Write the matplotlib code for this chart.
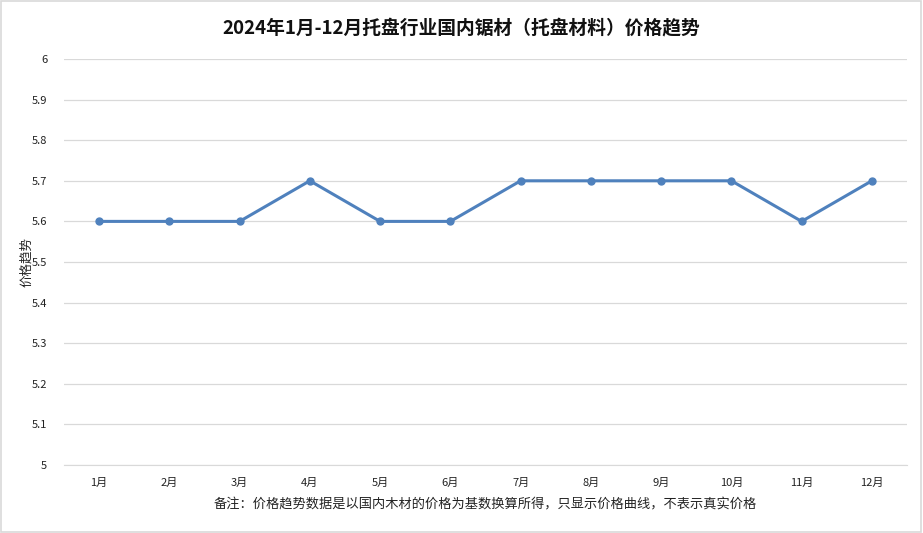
import matplotlib
matplotlib.use("Agg")
import matplotlib.pyplot as plt
from matplotlib.patches import Rectangle

plt.rcParams['font.family'] = ['Noto Sans CJK SC', 'DejaVu Sans']

months = ['1月', '2月', '3月', '4月', '5月', '6月', '7月', '8月', '9月', '10月', '11月', '12月']
prices = [5.6, 5.6, 5.6, 5.7, 5.6, 5.6, 5.7, 5.7, 5.7, 5.7, 5.6, 5.7]
yticks = [5, 5.1, 5.2, 5.3, 5.4, 5.5, 5.6, 5.7, 5.8, 5.9, 6]
ytick_labels = ['5', '5.1', '5.2', '5.3', '5.4', '5.5', '5.6', '5.7', '5.8', '5.9', '6']

title = '2024年1月-12月托盘行业国内锯材（托盘材料）价格趋势'
ylabel = '价格趋势'
note = '备注：价格趋势数据是以国内木材的价格为基数换算所得，只显示价格曲线，不表示真实价格'

fig = plt.figure(figsize=(9.23, 5.33), dpi=100)
fig.patches.append(Rectangle((0.001, 0.001), 0.997, 0.997, transform=fig.transFigure,
                             fill=False, edgecolor='#d9d9d9', linewidth=1.2))
ax = fig.add_axes([0.0693, 0.1276, 0.9134, 0.7617])

x = list(range(len(months)))
ax.plot(x, prices, color='#4f81bd', linewidth=2.2, marker='o', markersize=5,
        markerfacecolor='#4f81bd', markeredgecolor='#4f81bd', zorder=3)

ax.set_xlim(-0.5, len(months) - 0.5)
ax.set_ylim(5, 6)
ax.set_yticks(yticks)
ax.set_yticklabels(ytick_labels)
ax.set_xticks(x)
ax.set_xticklabels(months)
ax.grid(axis='y', color='#d9d9d9', linewidth=0.9)
ax.set_axisbelow(True)
for s in ['top', 'right', 'left']:
    ax.spines[s].set_visible(False)
ax.spines['bottom'].set_color('#d9d9d9')
ax.tick_params(axis='both', length=0, labelsize=8, colors='#222222')
ax.tick_params(axis='y', pad=12)
ax.tick_params(axis='x', pad=9)

ax.set_ylabel(ylabel, fontsize=9, color='#222222')
ax.yaxis.set_label_coords(-0.037, 0.5)
fig.text(0.5, 0.948, title, ha='center', va='center', fontsize=13.5, fontweight='bold', color='#111111')
ax.text(0.5, -(505 - 465) / (465 - 59), note, transform=ax.transAxes, ha='center', va='center',
        fontsize=9.5, color='#222222')
fig.savefig('out.png', dpi=100)
